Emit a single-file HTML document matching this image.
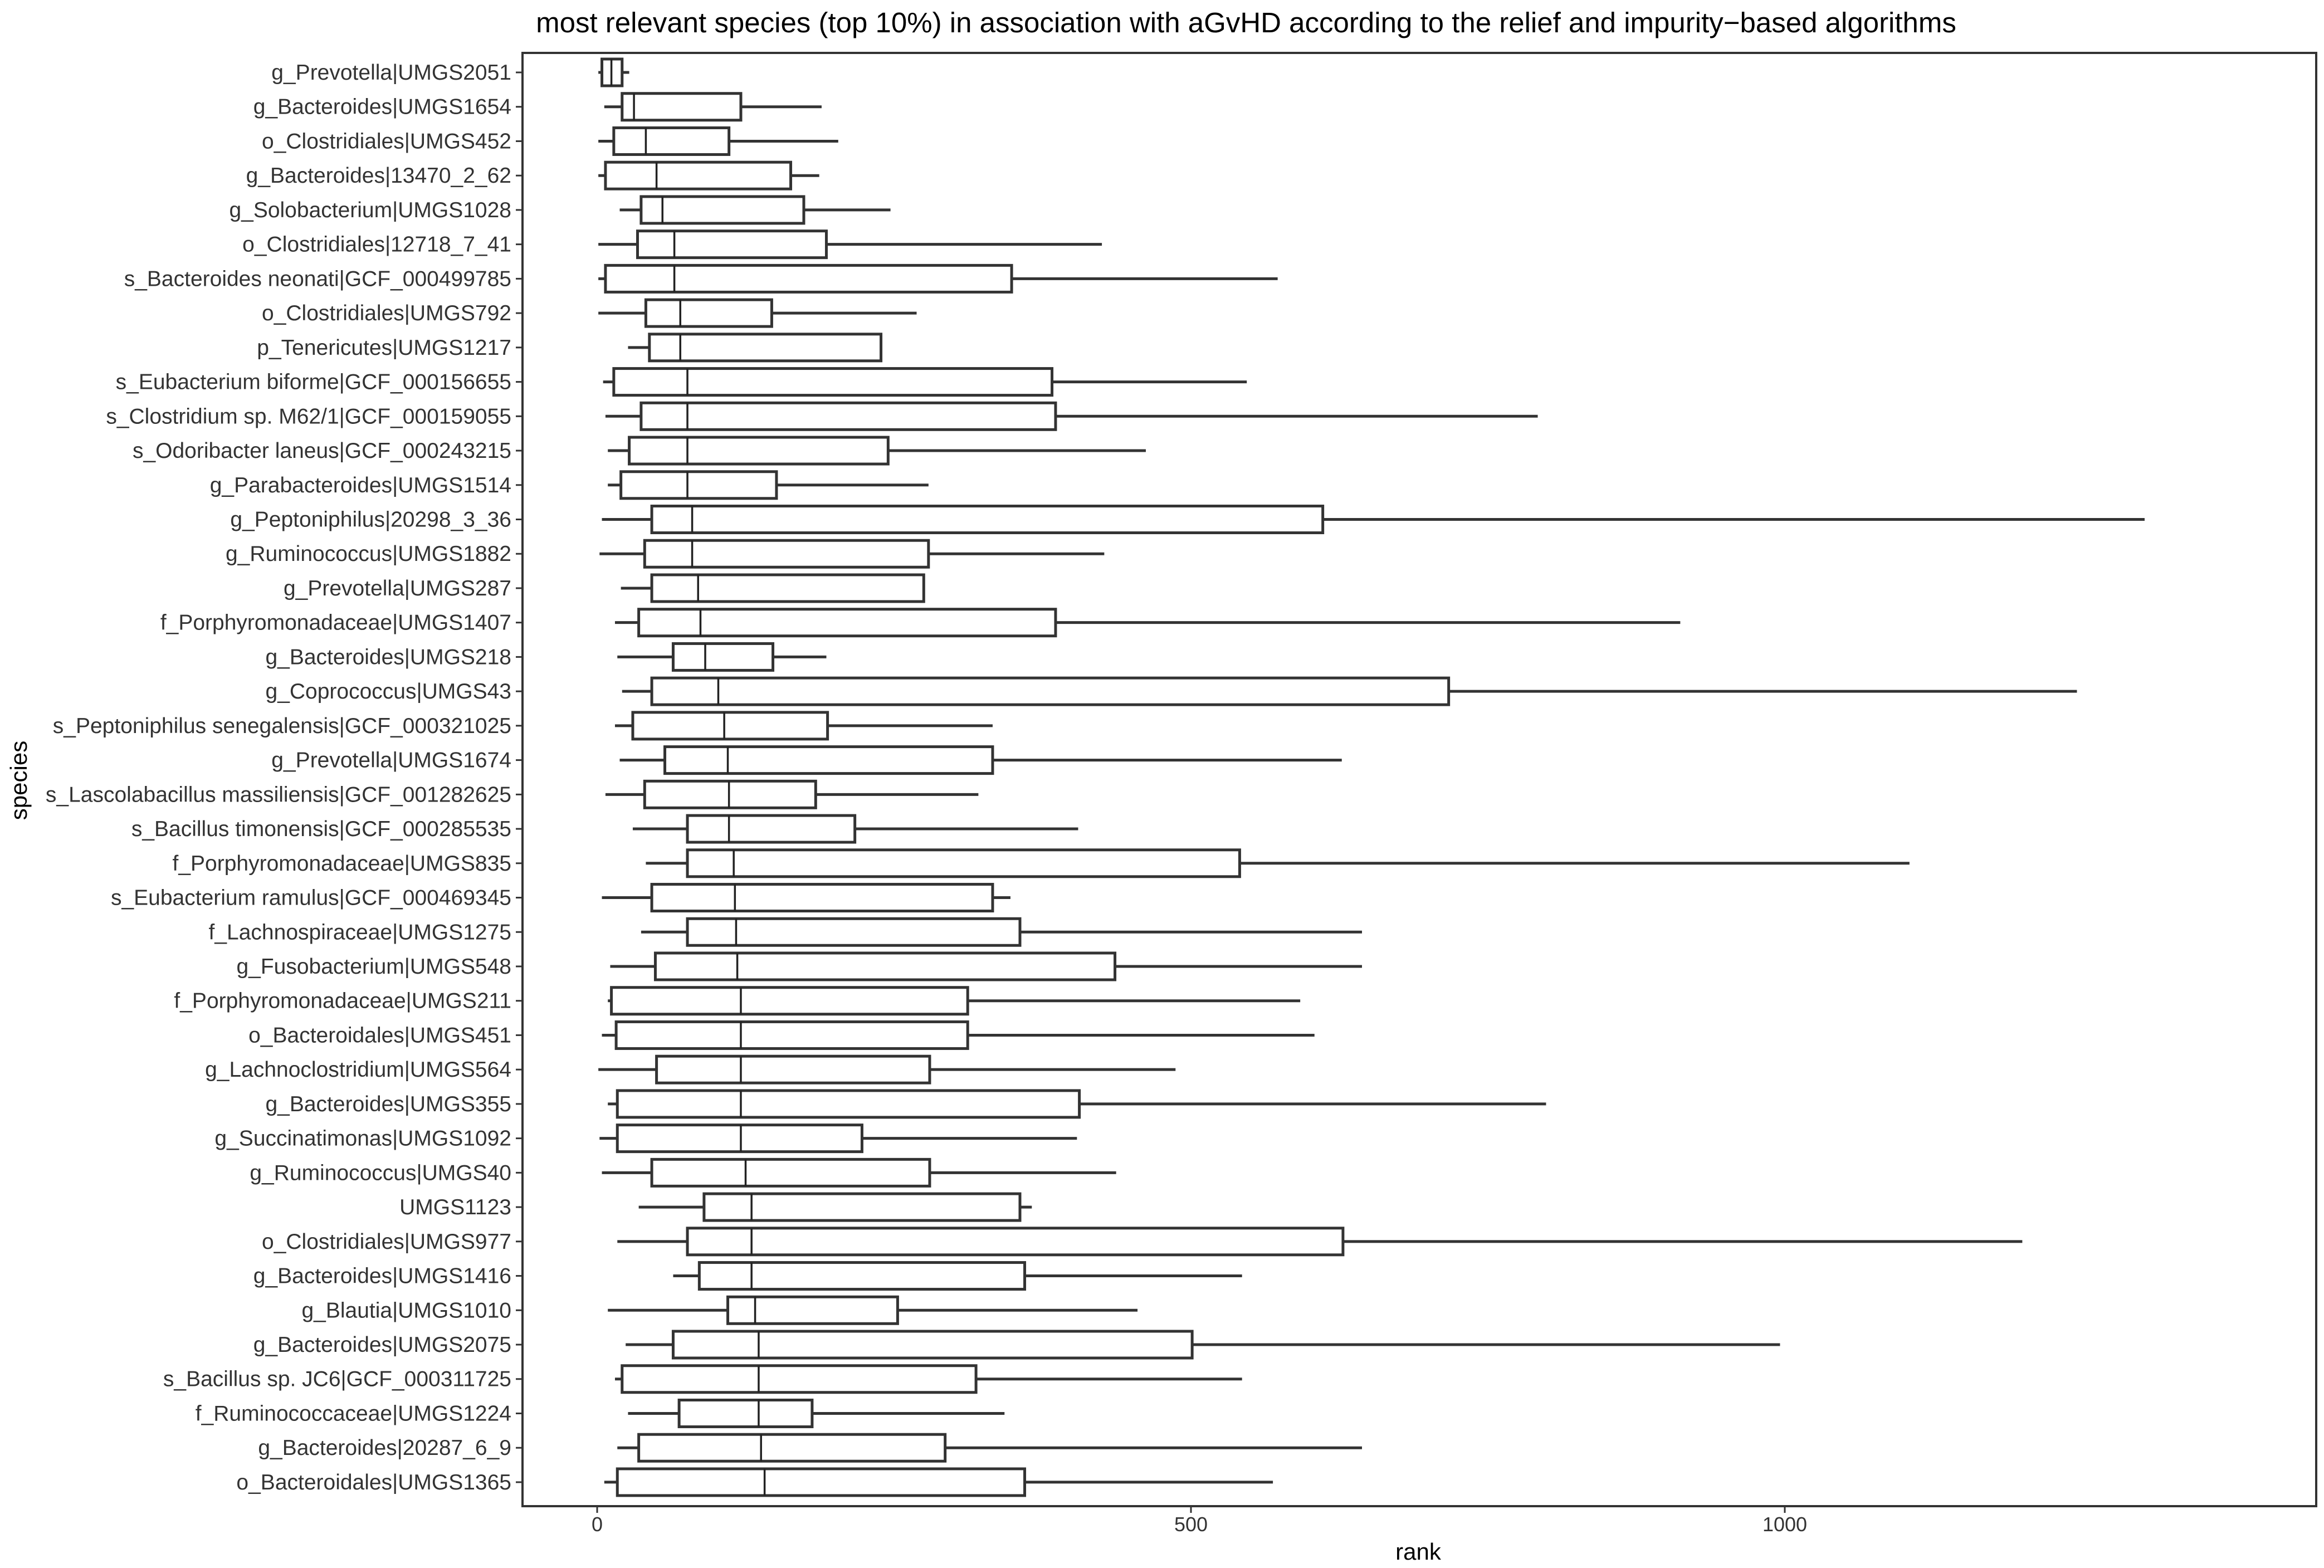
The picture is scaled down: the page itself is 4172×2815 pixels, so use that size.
<!DOCTYPE html>
<html><head><meta charset="utf-8"><style>
html,body{margin:0;padding:0;background:#fff;}
svg{display:block;font-family:"Liberation Sans",Arial,sans-serif;}
</style></head><body>
<svg id="chart" width="4172" height="2815" viewBox="0 0 4172 2815" xmlns="http://www.w3.org/2000/svg">
<text x="2237" y="58" font-size="51" text-anchor="middle" fill="#000">most relevant species (top 10%) in association with aGvHD according to the relief and impurity−based algorithms</text>
<rect x="938" y="95" width="3220" height="2609" fill="none" stroke="#333" stroke-width="4"/>
<g id="boxes"></g>
<g id="yaxis"></g>
<g id="xaxis"></g>
<text x="2546" y="2800" font-size="42" text-anchor="middle" fill="#000">rank</text>
<text x="0" y="0" font-size="42" text-anchor="middle" fill="#000" transform="translate(48,1401) rotate(-90)">species</text>
</svg>
<script>
const categories = ["g_Prevotella|UMGS2051","g_Bacteroides|UMGS1654","o_Clostridiales|UMGS452","g_Bacteroides|13470_2_62","g_Solobacterium|UMGS1028","o_Clostridiales|12718_7_41","s_Bacteroides neonati|GCF_000499785","o_Clostridiales|UMGS792","p_Tenericutes|UMGS1217","s_Eubacterium biforme|GCF_000156655","s_Clostridium sp. M62/1|GCF_000159055","s_Odoribacter laneus|GCF_000243215","g_Parabacteroides|UMGS1514","g_Peptoniphilus|20298_3_36","g_Ruminococcus|UMGS1882","g_Prevotella|UMGS287","f_Porphyromonadaceae|UMGS1407","g_Bacteroides|UMGS218","g_Coprococcus|UMGS43","s_Peptoniphilus senegalensis|GCF_000321025","g_Prevotella|UMGS1674","s_Lascolabacillus massiliensis|GCF_001282625","s_Bacillus timonensis|GCF_000285535","f_Porphyromonadaceae|UMGS835","s_Eubacterium ramulus|GCF_000469345","f_Lachnospiraceae|UMGS1275","g_Fusobacterium|UMGS548","f_Porphyromonadaceae|UMGS211","o_Bacteroidales|UMGS451","g_Lachnoclostridium|UMGS564","g_Bacteroides|UMGS355","g_Succinatimonas|UMGS1092","g_Ruminococcus|UMGS40","UMGS1123","o_Clostridiales|UMGS977","g_Bacteroides|UMGS1416","g_Blautia|UMGS1010","g_Bacteroides|UMGS2075","s_Bacillus sp. JC6|GCF_000311725","f_Ruminococcaceae|UMGS1224","g_Bacteroides|20287_6_9","o_Bacteroidales|UMGS1365"];
const whiskerLow = [1,6,1,1,19,1,1,1,26,5,7,9,9,4,2,20,15,17,21,15,19,7,30,41,4,37,11,9,4,1,9,2,4,35,17,64,9,24,15,26,17,6];
const q1 = [4,21,14,7,37,34,7,41,44,14,37,27,20,46,40,46,35,64,46,30,57,40,76,76,46,76,49,12,16,50,17,17,46,90,76,86,110,64,21,69,35,17];
const median = [12,31,41,50,55,65,65,70,70,76,76,76,76,80,80,85,87,91,102,107,110,111,111,115,116,117,118,121,121,121,121,121,125,130,130,130,133,136,136,136,138,141];
const q3 = [21,121,111,163,174,193,349,147,239,383,386,245,151,611,279,275,386,148,717,194,333,184,217,541,333,356,436,312,312,280,406,223,280,356,628,360,253,501,319,181,293,360];
const whiskerHigh = [27,189,203,187,247,425,573,269,239,547,792,462,279,1303,427,275,912,193,1246,333,627,321,405,1105,348,644,644,592,604,487,799,404,437,366,1200,543,455,996,543,343,644,569];
const xTicks = [0,500,1000];
const xTickLabels = ["0","500","1000"];

const NS="http://www.w3.org/2000/svg";
const X0=1072, PXU=2.132;
function xs(v){return X0+v*PXU;}
function ys(i){return 130+i*61.73;}
function mk(tag,attrs,parent){const e=document.createElementNS(NS,tag);for(const k in attrs)e.setAttribute(k,attrs[k]);parent.appendChild(e);return e;}
const gb=document.getElementById('boxes'), gy=document.getElementById('yaxis'), gx=document.getElementById('xaxis');
const H=48;
categories.forEach((c,i)=>{
  const y=ys(i);
  const g=mk('g',{},gb);
  
  
  const w1=mk('line',{x1:xs(whiskerLow[i]),x2:xs(q1[i]),y1:y,y2:y,stroke:'#333','stroke-width':5},g);
  
  
  const w2=mk('line',{x1:xs(q3[i]),x2:xs(whiskerHigh[i]),y1:y,y2:y,stroke:'#333','stroke-width':5},g);
  
  
  const r=mk('rect',{x:xs(q1[i]),y:y-H/2,width:xs(q3[i])-xs(q1[i]),height:H,fill:'#fff',stroke:'#333','stroke-width':5},g);
  
  
  const m=mk('line',{x1:xs(median[i]),x2:xs(median[i]),y1:y-H/2,y2:y+H/2,stroke:'#222','stroke-width':3.5},g);
  
  
  const t=mk('line',{x1:926,x2:938,y1:y,y2:y,stroke:'#333','stroke-width':3},gy);
  
  
  const lb=mk('text',{x:918,y:y+13,'font-size':39,'text-anchor':'end',fill:'#333'},gy);
  lb.textContent=c;
  
  
});
xTicks.forEach((v,i)=>{
  const t=mk('line',{x1:xs(v),x2:xs(v),y1:2704,y2:2716,stroke:'#333','stroke-width':3},gx);
  
  
  const lb=mk('text',{x:xs(v),y:2749,'font-size':36,'text-anchor':'middle',fill:'#333'},gx);
  lb.textContent=xTickLabels[i];
  
  
});
</script>
</body></html>
